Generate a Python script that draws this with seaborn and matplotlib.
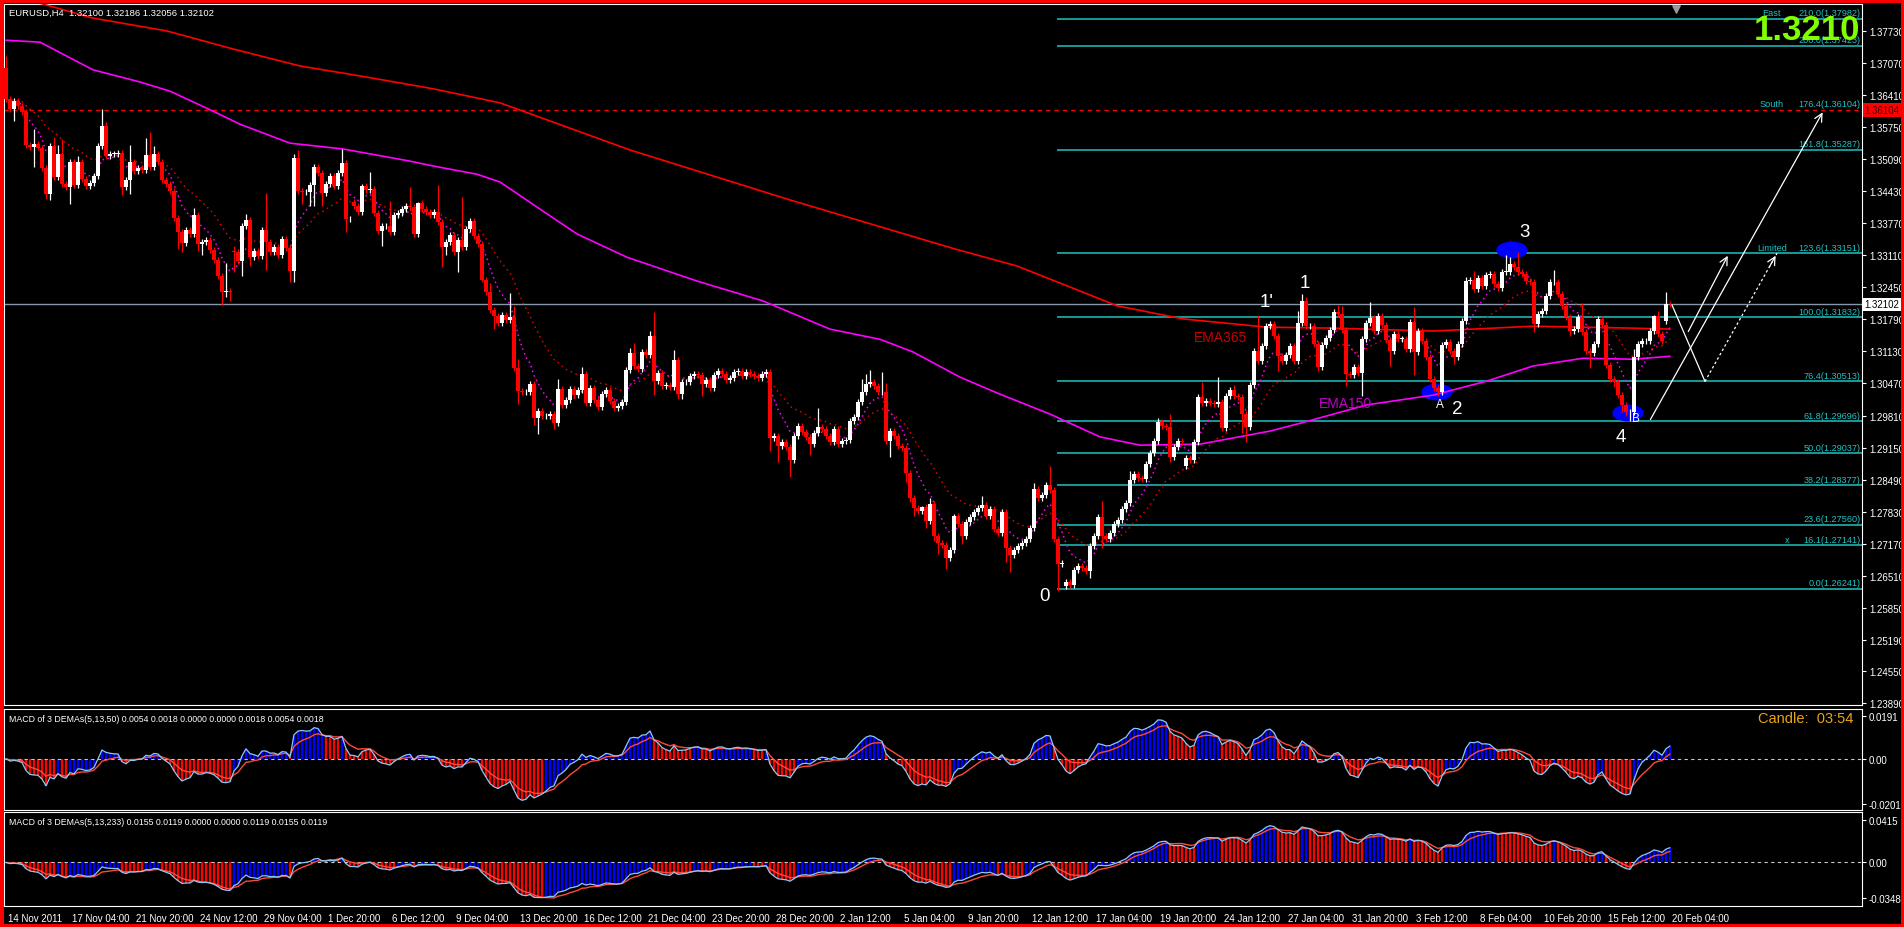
import numpy as np
import pandas as pd
import matplotlib
matplotlib.use("Agg")
import matplotlib.pyplot as plt
import matplotlib.transforms as mtransforms
from matplotlib.patches import Ellipse, Rectangle
import seaborn as sns

# EURUSD H4 closes, pips above 1.0000 (3633 -> 1.3633), 16 bars per row
closes = [
    3633, 3612, 3628, 3618, 3606, 3538, 3534, 3540, 3533, 3491, 3437, 3537, 3472, 3520, 3458, 3452,
    3503, 3456, 3503, 3468, 3454, 3460, 3474, 3536, 3577, 3515, 3520, 3520, 3522, 3452, 3466, 3503,
    3484, 3491, 3487, 3518, 3493, 3520, 3503, 3466, 3458, 3443, 3388, 3359, 3336, 3363, 3355, 3394,
    3334, 3338, 3342, 3322, 3301, 3268, 3235, 3237, 3235, 3318, 3299, 3371, 3383, 3307, 3320, 3309,
    3363, 3338, 3318, 3328, 3312, 3345, 3326, 3279, 3511, 3443, 3441, 3441, 3456, 3493, 3481, 3439,
    3458, 3474, 3454, 3481, 3501, 3386, 3386, 3412, 3400, 3454, 3445, 3447, 3398, 3361, 3371, 3371,
    3359, 3394, 3398, 3406, 3412, 3410, 3355, 3419, 3406, 3400, 3394, 3400, 3380, 3328, 3338, 3353,
    3318, 3342, 3328, 3365, 3382, 3351, 3334, 3260, 3235, 3198, 3186, 3171, 3188, 3178, 3184, 3079,
    3031, 3029, 3029, 3046, 2976, 2990, 2980, 2980, 2984, 2965, 3036, 3003, 3013, 3036, 3023, 3034,
    3067, 3007, 3038, 3013, 2998, 3025, 3034, 3011, 2996, 3000, 3009, 3075, 3110, 3083, 3077, 3112,
    3106, 3145, 3052, 3069, 3042, 3044, 3040, 3095, 3025, 3050, 3050, 3063, 3067, 3065, 3046, 3054,
    3038, 3065, 3073, 3067, 3054, 3058, 3071, 3073, 3063, 3071, 3067, 3063, 3058, 3067, 3071, 2935,
    2939, 2918, 2926, 2916, 2889, 2939, 2959, 2947, 2937, 2922, 2945, 2957, 2953, 2939, 2926, 2953,
    2922, 2928, 2930, 2970, 2978, 3009, 3029, 3046, 3050, 3042, 3029, 3029, 2928, 2949, 2939, 2918,
    2914, 2863, 2811, 2790, 2784, 2792, 2763, 2799, 2733, 2718, 2714, 2687, 2704, 2774, 2757, 2733,
    2761, 2772, 2782, 2790, 2797, 2774, 2788, 2747, 2739, 2782, 2708, 2694, 2704, 2712, 2718, 2727,
    2749, 2830, 2811, 2817, 2838, 2828, 2727, 2675, 2677, 2638, 2632, 2663, 2671, 2667, 2661, 2712,
    2733, 2772, 2733, 2727, 2739, 2757, 2766, 2788, 2801, 2848, 2860, 2852, 2850, 2881, 2904, 2928,
    2967, 2959, 2957, 2895, 2916, 2928, 2926, 2893, 2889, 2926, 3019, 3007, 3011, 3007, 3005, 3009,
    2955, 3021, 3034, 3021, 3019, 2984, 2957, 3044, 3114, 3093, 3124, 3165, 3169, 3145, 3104, 3093,
    3106, 3124, 3093, 3171, 3217, 3165, 3165, 3128, 3081, 3126, 3141, 3157, 3194, 3190, 3157, 3066,
    3064, 3081, 3069, 3139, 3171, 3182, 3155, 3186, 3167, 3136, 3114, 3149, 3139, 3139, 3118, 3173,
    3112, 3155, 3134, 3101, 3056, 3038, 3029, 3126, 3132, 3114, 3101, 3128, 3175, 3258, 3260, 3242,
    3264, 3248, 3270, 3272, 3252, 3244, 3277, 3277, 3293, 3287, 3277, 3273, 3258, 3256, 3169, 3190,
    3196, 3227, 3256, 3256, 3231, 3207, 3184, 3155, 3159, 3184, 3153, 3114, 3110, 3128, 3180, 3167,
    3085, 3056, 3050, 3023, 3003, 2988, 2988, 3101, 3128, 3134, 3134, 3155, 3186, 3149, 3134, 3211,
    3210,
]
# opens differ from previous close only on the first bar and on weekend gaps
open_marks = {0: 3697, 57: 3320, 87: 3421, 265: 2630, 295: 2877, 415: 3176}
# wicks that stick out clearly; other bars get a small default wick
wick_default = 6
high_marks = {0: 3721, 7: 3571, 12: 3555, 13: 3538, 14: 3551, 18: 3515, 24: 3612, 25: 3586,
              31: 3538, 35: 3553, 36: 3565, 37: 3536, 47: 3408, 55: 3295, 57: 3330, 60: 3396,
              65: 3439, 72: 3520, 73: 3528, 84: 3530, 89: 3458, 91: 3483, 96: 3423, 101: 3452,
              103: 3421, 108: 3456, 114: 3431, 121: 3254, 126: 3233, 127: 3207, 128: 3097,
              138: 3056, 144: 3081, 156: 3120, 157: 3130, 161: 3155, 162: 3194, 167: 3116,
              203: 2996, 214: 3056, 215: 3066, 216: 3075, 219: 3071, 220: 3048, 229: 2795,
              231: 2811, 237: 2778, 244: 2815, 257: 2842, 261: 2877, 274: 2805, 281: 2866,
              288: 2975, 291: 2984, 299: 3050, 303: 3060, 307: 3044, 313: 3188, 323: 3196,
              324: 3231, 325: 3225, 333: 3209, 334: 3207, 341: 3215, 352: 3205, 365: 3266,
              367: 3279, 375: 3312, 376: 3307, 378: 3318, 387: 3281, 394: 3213, 407: 3118,
              412: 3188, 413: 3196, 415: 3235}
low_marks = {2: 3588, 7: 3493, 10: 3427, 11: 3425, 16: 3417, 29: 3435, 31: 3437, 43: 3324,
             44: 3318, 48: 3320, 49: 3312, 54: 3209, 55: 3225, 56: 3217, 57: 3277, 59: 3268,
             61: 3289, 65: 3281, 71: 3256, 72: 3256, 74: 3417, 76: 3413, 77: 3413, 79: 3413,
             85: 3359, 94: 3330, 102: 3349, 109: 3287, 110: 3312, 113: 3277, 119: 3256,
             122: 3159, 128: 3005, 132: 2961, 133: 2943, 137: 2953, 162: 3023, 168: 3015,
             169: 3015, 174: 3021, 191: 2908, 193: 2885, 196: 2854, 201: 2900, 221: 2895,
             225: 2844, 226: 2803, 227: 2774, 230: 2750, 232: 2722, 233: 2696, 235: 2665,
             239: 2716, 250: 2679, 251: 2659, 263: 2620, 265: 2624, 271: 2646, 274: 2708,
             291: 2885, 295: 2871, 304: 2949, 309: 2946, 310: 2926, 318: 3073, 328: 3073,
             335: 3042, 339: 3021, 346: 3083, 352: 3064, 358: 3021, 362: 3087, 382: 3153,
             391: 3145, 396: 3079, 402: 3040, 404: 2988, 405: 2980, 406: 2970}

# long moving averages (bar index, pips)
ema365_bars = [0, 21.5, 40.25, 56.75, 73.5, 90.25, 106.75, 123.5, 156, 196, 237.25, 252.75,
               269.25, 277.75, 294.25, 315.25, 331.75, 356.75, 381.75, 406.75, 416]
ema365_pips = [3850, 3800, 3773, 3736, 3701, 3678, 3654, 3625, 3528, 3425, 3324, 3289,
               3235, 3207, 3180, 3163, 3161, 3155, 3165, 3161, 3159]
ema150_bars = [0, 8.5, 21.75, 33.5, 41, 51.75, 58.5, 71, 84.25, 101, 106.75, 117.75, 123.5,
               126, 134.25, 142.75, 155.25, 172.75, 189.25, 206, 218.5, 226.75, 238.5, 248.5,
               261, 273.5, 283.5, 298.5, 316, 323.5, 340.25, 356.75, 370.25, 381.75, 394.25,
               406.75, 416]
ema150_pips = [3754, 3750, 3693, 3668, 3649, 3608, 3581, 3542, 3530, 3505, 3495, 3478, 3462,
               3448, 3402, 3355, 3307, 3258, 3217, 3159, 3138, 3112, 3060, 3025, 2984, 2937,
               2920, 2922, 2949, 2965, 3003, 3023, 3052, 3083, 3099, 3097, 3103]

fib_levels = ['0.0', '16.1', '23.6', '38.2', '50.0', '61.8', '76.4', '100.0', '123.6',
              '161.8', '176.4', '200.0', '210.0']
fib_prices = [1.26241, 1.27141, 1.27560, 1.28377, 1.29037, 1.29696, 1.30513, 1.31832,
              1.33151, 1.35287, 1.36104, 1.37423, 1.37982]
fib_notes = {'16.1': 'x', '123.6': 'Limited', '176.4': 'South', '210.0': 'East'}

price_ticks = [1.37730, 1.37070, 1.36410, 1.35750, 1.35090, 1.34430, 1.33770, 1.33110,
               1.32450, 1.31790, 1.31130, 1.30470, 1.29810, 1.29150, 1.28490, 1.27830,
               1.27170, 1.26510, 1.25850, 1.25190, 1.24550, 1.23890]
time_labels = ['14 Nov 2011', '17 Nov 04:00', '21 Nov 20:00', '24 Nov 12:00', '29 Nov 04:00',
               '1 Dec 20:00', '6 Dec 12:00', '9 Dec 04:00', '13 Dec 20:00', '16 Dec 12:00',
               '21 Dec 04:00', '23 Dec 20:00', '28 Dec 20:00', '2 Jan 12:00', '5 Jan 04:00',
               '9 Jan 20:00', '12 Jan 12:00', '17 Jan 04:00', '19 Jan 20:00', '24 Jan 12:00',
               '27 Jan 04:00', '31 Jan 20:00', '3 Feb 12:00', '8 Feb 04:00', '10 Feb 20:00',
               '15 Feb 12:00', '20 Feb 04:00']

# wave labels: (text, bar, price)
wave_labels = [('0', 259.75, 1.26093), ("1'", 315.25, 1.32151), ('1', 324.75, 1.32560),
               ('2', 362.75, 1.29965), ('3', 379.75, 1.33610), ('4', 403.75, 1.29388)]
blobs = [(357.75, 1.30294), (376.5, 1.33219), (405.5, 1.29862)]

sns.set_theme(style="dark", rc={'axes.facecolor': 'black', 'figure.facecolor': 'black',
                                'axes.grid': False, 'axes.edgecolor': 'white'})
plt.rcParams['font.family'] = ['Liberation Sans', 'DejaVu Sans']

# ---- build the candles
n = len(closes)
bar = np.arange(n)
c = 1 + np.array(closes) / 10000.0
o = np.concatenate([[0.0], c[:-1]])
for k, v in open_marks.items():
    o[k] = 1 + v / 10000.0
hi = np.maximum(o, c) + wick_default / 10000.0
lo = np.minimum(o, c) - wick_default / 10000.0
for k, v in high_marks.items():
    hi[k] = max(1 + v / 10000.0, max(o[k], c[k]))
for k, v in low_marks.items():
    lo[k] = min(1 + v / 10000.0, min(o[k], c[k]))
df = pd.DataFrame({'bar': bar, 'open': o, 'high': hi, 'low': lo, 'close': c})

W, H = 1904, 928
fig = plt.figure(figsize=(W / 100, H / 100), dpi=100)


def box(x0, y0, x1, y1):
    return [x0 / W, 1 - y1 / H, (x1 - x0) / W, (y1 - y0) / H]


ax = fig.add_axes(box(4, 5, 1862, 706))
ax1 = fig.add_axes(box(4, 710, 1862, 811), sharex=ax)
ax2 = fig.add_axes(box(4, 813, 1862, 907), sharex=ax)

cyan = '#1fc2c2'
# fib grid
for lv, p in zip(fib_levels, fib_prices):
    if lv != '176.4':
        ax.hlines(p, 262.75, 464, color=cyan, lw=1.1, zorder=1)
    ax.text(463.7, p + 1.5 / 4855, '%s(%.5f)' % (lv, p), color=cyan, fontsize=6.6,
            ha='right', va='bottom', zorder=6)
    if lv in fib_notes:
        xn = 445.25 if lv == '16.1' else 441.5
        ax.text(xn, p + 1.5 / 4855, fib_notes[lv], color=cyan, fontsize=6.6,
                ha='center', va='bottom', zorder=6)

ax.axhline(1.36104, color='#ff0000', lw=1, ls=(0, (3, 3)), zorder=2)
ax.axhline(1.32102, color='#8796a8', lw=1, zorder=1)

for bx, by in blobs:
    ax.add_patch(Ellipse((bx, by), 7.5, 0.0032, color='#0000ff', zorder=2))

# moving averages
sns.lineplot(x=ema365_bars, y=1 + np.array(ema365_pips) / 10000.0, ax=ax, color='#ff0000',
             linewidth=1.2, zorder=3)
sns.lineplot(x=ema150_bars, y=1 + np.array(ema150_pips) / 10000.0, ax=ax, color='#ff00ff',
             linewidth=1.2, zorder=3)
ax.plot(df.bar, df.close.ewm(span=21, adjust=False).mean(), color='#e00000', lw=1.1,
        ls=(0, (1, 2.5)), zorder=3)
ax.plot(df.bar, df.close.ewm(span=8, adjust=False).mean(), color='#ff00ff', lw=1.1,
        ls=(0, (1, 2.2)), zorder=3)

# candles
col = np.where(df.close >= df.open, 'white', '#ff0000')
ax.vlines(df.bar, df.low, df.high, colors=col, linewidth=0.9, zorder=4)
body = (df.close - df.open).abs().clip(lower=0.00007)
ax.bar(df.bar, body, bottom=np.minimum(df.open, df.close), width=0.78, color=col,
       linewidth=0, zorder=4)

# annotations
for t, bx, by in wave_labels:
    ax.text(bx, by, t, color='white', fontsize=13.5, ha='center', va='center', zorder=7)
ax.text(358.5, 1.30048, 'A', color='white', fontsize=8.5, ha='center', va='center', zorder=7)
ax.text(407.5, 1.29759, 'B', color='white', fontsize=8.5, ha='center', va='center', zorder=7)
ax.text(303.75, 1.31427, 'EMA365', color='#c80000', fontsize=10, ha='center', va='center',
        zorder=7)
ax.text(334.75, 1.30068, 'EMA150', color='#c000c8', fontsize=10, ha='center', va='center',
        zorder=7)

arr = dict(arrowstyle='->', color='white', lw=0.9, mutation_scale=14)
ax.annotate('', xy=(454.5, 1.36104), xytext=(410.75, 1.29677), arrowprops=arr, zorder=7)
ax.plot([416.5, 424.75], [1.32086, 1.30513], color='white', lw=0.9, zorder=7)
ax.annotate('', xy=(430.75, 1.33151), xytext=(420.25, 1.31489), arrowprops=arr, zorder=7)
ax.plot([424.75, 442.75], [1.30513, 1.33151], color='white', lw=0.9, ls=(0, (2, 2)), zorder=7)
ax.annotate('', xy=(442.75, 1.33151), xytext=(440.5, 1.32821), arrowprops=arr, zorder=7)

ax.set_xlim(-0.5, 464)
ax.set_ylim(1.23848, 1.38286)
ax.yaxis.tick_right()
ax.set_yticks(price_ticks)
ax.set_yticklabels(['%.5f' % p for p in price_ticks])
ax.tick_params(axis='y', colors='white', length=3, width=0.8, pad=2, labelsize=7)
ax.tick_params(axis='x', bottom=False, labelbottom=False)

trans = mtransforms.blended_transform_factory(ax.transAxes, ax.transData)
ax.text(1.0012, 1.36104, '1.36104', transform=trans, color='#400000', fontsize=7,
        va='center', ha='left', bbox=dict(facecolor='#ff0000', edgecolor='none', pad=1.2),
        zorder=8, clip_on=False)
ax.text(1.0012, 1.32102, '1.32102', transform=trans, color='black', fontsize=7,
        va='center', ha='left', bbox=dict(facecolor='white', edgecolor='none', pad=1.2),
        zorder=8, clip_on=False)
tri = mtransforms.blended_transform_factory(ax.transData, ax.transAxes)
ax.scatter([417.5], [0.993], marker='v', color='#9a9a9a', s=28, transform=tri, zorder=8,
           clip_on=False)


# ---- MACD of 3 DEMAs panels
def dema(s, span):
    e1 = s.ewm(span=span, adjust=False).mean()
    e2 = e1.ewm(span=span, adjust=False).mean()
    return 2 * e1 - e2


panels = [(ax1, 50, (-0.0228, 0.0222), [0.0191, 0.0, -0.0201], ['0.0191', '0.00', '-0.0201']),
          (ax2, 233, (-0.0426, 0.0493), [0.0415, 0.0, -0.0348], ['0.0415', '0.00', '-0.0348'])]
for axp, slow, ylim, yt, ytl in panels:
    ds = dema(df.close, slow)
    main = dema(df.close, 5) - ds
    sig = dema(df.close, 13) - ds
    hcol = np.where(main > sig, '#0000ff', '#ff0000')
    axp.vlines(df.bar, 0, main, colors=hcol, linewidth=1.7, zorder=2)
    axp.axhline(0, color='#c8c8c8', lw=0.8, ls=(0, (3, 3)), zorder=3)
    sns.lineplot(x=df.bar, y=sig, ax=axp, color='#ff4a3a', linewidth=1, zorder=4)
    sns.lineplot(x=df.bar, y=main, ax=axp, color='#8ccaf5', linewidth=0.9, zorder=5)
    axp.set_ylim(*ylim)
    axp.yaxis.tick_right()
    axp.set_yticks(yt)
    axp.set_yticklabels(ytl)
    axp.tick_params(axis='y', colors='white', length=3, width=0.8, pad=2, labelsize=7)
    axp.set_ylabel('')
    axp.set_xlabel('')

ax1.tick_params(axis='x', bottom=False, labelbottom=False)
ax2.set_xticks(np.arange(0, n, 16))
ax2.set_xticklabels(time_labels, ha='left')
ax2.tick_params(axis='x', colors='white', length=4, width=0.8, pad=1, labelsize=7)
shift = mtransforms.ScaledTranslation(2 / 100, 0, fig.dpi_scale_trans)
for lbl in ax2.get_xticklabels():
    lbl.set_transform(lbl.get_transform() + shift)
ax.set_xlabel('')
ax.set_ylabel('')

for a in (ax, ax1, ax2):
    for s in a.spines.values():
        s.set_color('white')
        s.set_linewidth(0.8)

fig.text(9 / W, 1 - 13 / H, 'EURUSD,H4  1.32100 1.32186 1.32056 1.32102', color='white',
         fontsize=6.8, va='center', ha='left')
fig.text(9 / W, 1 - 720 / H,
         'MACD of 3 DEMAs(5,13,50) 0.0054 0.0018 0.0000 0.0000 0.0018 0.0054 0.0018',
         color='white', fontsize=6.3, va='center', ha='left')
fig.text(9 / W, 1 - 823 / H,
         'MACD of 3 DEMAs(5,13,233) 0.0155 0.0119 0.0000 0.0000 0.0119 0.0155 0.0119',
         color='white', fontsize=6.3, va='center', ha='left')
fig.text(1853 / W, 1 - 719 / H, 'Candle:  03:54', color='#e8a317', fontsize=10.5,
         va='center', ha='right')
fig.text(1860 / W, 1 - 40 / H, '1.3210', color='#7fff00', fontsize=25, weight='bold',
         va='baseline', ha='right')

fig.add_artist(Rectangle((0, 0), 1, 1, transform=fig.transFigure, fill=False,
                         edgecolor='#ff0000', lw=5))

fig.savefig('out.png', dpi=100, facecolor='black')
